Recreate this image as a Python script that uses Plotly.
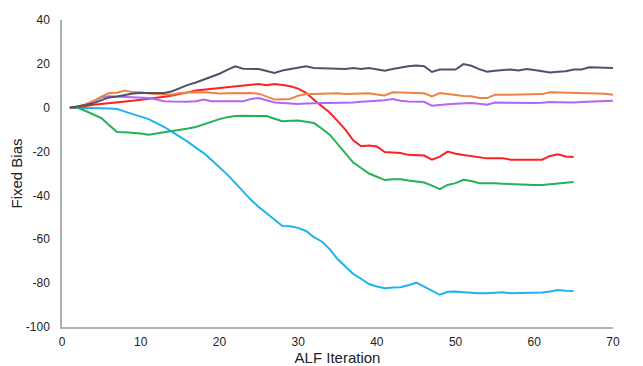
import plotly.graph_objects as go

iter70 = list(range(1, 71))
iter65 = list(range(1, 66))

grey = [0, 0.5, 1.2, 2.1, 3.4, 4.7, 5.1, 5.7, 6.5, 6.7,
        6.7, 6.7, 6.7, 7.5, 9.0, 10.4, 11.5, 12.8, 14.0, 15.5,
        17.3, 18.9, 17.8, 17.7, 17.6, 16.7, 15.8, 17.0, 17.7, 18.3,
        18.9, 18.1, 18.0, 17.9, 17.8, 17.7, 18.1, 17.7, 18.1, 17.5,
        16.9, 17.7, 18.4, 18.9, 19.2, 18.9, 16.3, 17.4, 17.4, 17.4,
        19.9, 19.1, 17.6, 16.4, 16.9, 17.1, 17.4, 17.0, 17.7, 17.2,
        16.7, 16.1, 16.4, 16.6, 17.4, 17.4, 18.4, 18.3, 18.2, 18.1]

orange = [0, 0.5, 1.5, 3.0, 5.0, 6.7, 6.8, 7.8, 7.0, 7.0,
          6.5, 6.2, 6.0, 6.0, 6.7, 6.9, 7.0, 7.0, 6.8, 6.5,
          6.6, 6.7, 6.5, 6.7, 6.4, 4.9, 3.7, 3.9, 4.0, 5.5,
          6.2, 6.3, 6.4, 6.6, 6.6, 6.3, 6.4, 6.6, 6.6, 6.0,
          5.6, 7.0, 6.8, 6.7, 6.7, 6.6, 5.2, 6.7, 6.2, 5.5,
          5.3, 5.2, 4.4, 4.4, 5.9, 5.9, 5.9, 6.0, 6.0, 5.9,
          6.2, 7.0, 6.9, 6.8, 6.7, 6.7, 6.7, 6.7, 6.4, 5.9]

purple = [0, 0.5, 1.5, 3.0, 4.6, 5.2, 5.0, 4.7, 4.6, 4.5,
          4.4, 3.7, 3.0, 2.8, 2.6, 2.7, 3.0, 3.7, 3.0, 2.9,
          2.9, 2.9, 2.9, 4.0, 4.4, 3.4, 2.4, 2.2, 1.9, 1.7,
          1.9, 2.1, 2.1, 2.1, 2.1, 2.2, 2.4, 2.7, 2.9, 2.9,
          3.4, 4.0, 3.2, 2.8, 2.7, 2.7, 0.9, 1.4, 1.6, 1.8,
          1.9, 2.1, 1.8, 1.4, 2.4, 2.3, 2.2, 2.2, 2.2, 2.1,
          2.3, 2.6, 2.5, 2.4, 2.4, 2.6, 2.8, 3.0, 3.1, 3.2]

red = [0, 0.3, 0.8, 1.4, 1.7, 2.0, 2.3, 2.7, 3.2, 3.6,
       4.0, 4.4, 5.0, 5.6, 6.2, 7.0, 7.8, 8.2, 8.6, 9.0,
       9.2, 9.5, 9.9, 10.4, 10.8, 10.3, 10.8, 10.4, 9.8, 8.7,
       6.8, 3.6, 0.5, -2.2, -6.0, -10.0, -14.9, -17.6, -17.2, -17.7,
       -20.2, -20.5, -20.7, -21.5, -21.7, -21.8, -23.7, -22.3, -20.0, -21.0,
       -21.6, -22.2, -22.6, -23.1, -23.1, -23.1, -23.7, -23.7, -23.7, -23.7,
       -23.7, -22.0, -21.2, -22.2, -22.5]

green = [0, 0, -1.5, -3.0, -4.7, -8.0, -11.1, -11.2, -11.4, -11.8,
         -12.3, -11.8, -11.3, -10.8, -10.2, -9.5, -8.8, -7.5, -6.3, -5.2,
         -4.3, -3.8, -3.7, -3.7, -3.6, -3.8, -5.0, -6.2, -6.0, -5.8,
         -6.4, -7.0, -9.5, -12.3, -16.5, -21.0, -25.0, -27.5, -30.0, -31.5,
         -33.0, -32.6, -32.6, -33.2, -33.6, -34.1, -35.5, -37.1, -35.2, -34.4,
         -32.9, -33.4, -34.4, -34.3, -34.5, -34.7, -34.9, -35.2, -35.4, -35.3,
         -35.2, -34.8, -34.5, -34.2, -33.9]

blue = [0, 0, 0, -0.2, -0.3, -0.4, -0.6, -1.8, -2.9, -4.0,
        -5.2, -7.0, -8.8, -11.0, -13.2, -15.6, -18.2, -20.7, -23.8, -27.0,
        -30.5, -34.3, -38.2, -42.0, -45.3, -48.1, -50.8, -54.0, -54.1, -54.8,
        -56.2, -59.0, -61.0, -64.5, -69.0, -72.5, -75.8, -78.0, -80.4, -81.5,
        -82.3, -82.0, -81.9, -81.0, -79.8, -81.6, -83.5, -85.3, -83.9, -83.8,
        -84.1, -84.4, -84.6, -84.6, -84.4, -84.2, -84.6, -84.5, -84.4, -84.4,
        -84.3, -83.8, -83.1, -83.5, -83.6]

x_ticks = [0, 10, 20, 30, 40, 50, 60, 70]
y_ticks = [40, 20, 0, -20, -40, -60, -80, -100]
y_tick_text = ["40", "20", "0", "-20", "-40", "-60", "-80", "-100"]

series = [
    (iter65, blue, "#1FB2F0"),
    (iter65, green, "#25B155"),
    (iter65, red, "#FF2020"),
    (iter70, purple, "#B366F5"),
    (iter70, orange, "#EE8245"),
    (iter70, grey, "#4A5568"),
]

fig = go.Figure()
for xs, ys, col in series:
    fig.add_trace(go.Scatter(x=xs, y=ys, mode="lines",
                             line=dict(color=col, width=2), showlegend=False,
                             cliponaxis=False))

font = "Liberation Sans, Arial, Helvetica, sans-serif"
# the page places the figure 8px in from the top-left corner
fig.update_layout(
    width=635, height=358,
    margin=dict(l=54, r=30, t=12, b=39),
    paper_bgcolor="white", plot_bgcolor="white",
    font=dict(family=font, size=12, color="#222"),
    xaxis=dict(range=[0, 70], tickvals=x_ticks, showgrid=False, zeroline=False,
               showline=True, linecolor="#B0B0B0", linewidth=1.5, ticks="",
               ticklabelstandoff=3, automargin=False,
               title=dict(text="ALF Iteration", font=dict(size=15), standoff=6)),
    yaxis=dict(range=[-100, 40], tickvals=y_ticks, ticktext=y_tick_text,
               showgrid=False, zeroline=False,
               showline=True, linecolor="#B0B0B0", linewidth=1.5, ticks="",
               ticklabelstandoff=8, automargin=False,
               title=dict(text="Fixed Bias", font=dict(size=15), standoff=0)),
)

fig.write_html("out.html")
